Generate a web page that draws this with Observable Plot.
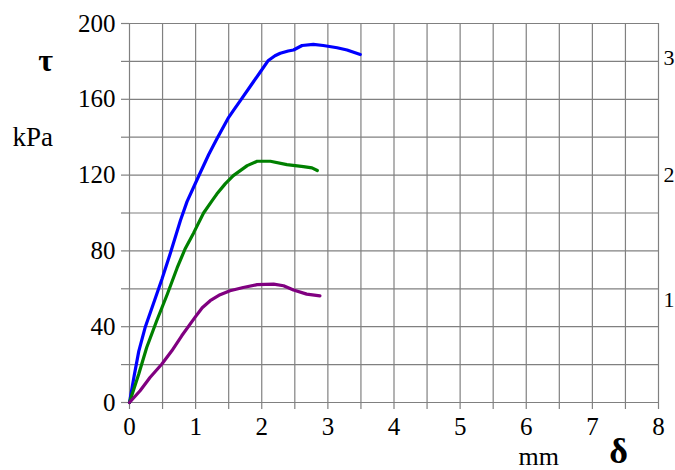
<!DOCTYPE html>
<html>
<head>
<meta charset="utf-8">
<script src="https://cdn.jsdelivr.net/npm/d3@7"></script>
<script src="https://cdn.jsdelivr.net/npm/@observablehq/plot@0.6"></script>
<style>
  html, body { margin: 0; padding: 0; background: #fff; overflow: hidden; }
  #chart svg, #chart svg text { font-family: "Liberation Serif", "Times New Roman", serif !important; }
</style>
</head>
<body>
<div id="chart"></div>
<script>
// Curve 3 (blue)
const blueX = [0, 0.07, 0.14, 0.24, 0.36, 0.49, 0.62, 0.77, 0.87, 1.04, 1.2, 1.32, 1.5, 1.57, 1.7, 1.83, 1.97, 2.1, 2.2, 2.28, 2.4, 2.48, 2.61, 2.78, 2.93, 3.14, 3.29, 3.49];
const blueY = [0, 14, 27, 40, 52, 65, 79, 96, 106, 119, 131, 139, 150.5, 154, 160.5, 167, 174, 180.5, 183, 184.3, 185.5, 186, 188.4, 189, 188.4, 187.2, 186, 183.6];
// Curve 2 (green)
const greenX = [0, 0.14, 0.26, 0.41, 0.57, 0.72, 0.84, 0.97, 1.12, 1.25, 1.32, 1.45, 1.57, 1.78, 1.93, 2.13, 2.38, 2.63, 2.76, 2.84];
const greenY = [0, 15, 29, 43, 57, 71, 81, 89.5, 100, 106.5, 110, 115.5, 119.7, 125, 127.3, 127.3, 125.5, 124.5, 123.8, 122.4];
// Curve 1 (purple)
const purpleX = [0, 0.16, 0.31, 0.49, 0.64, 0.79, 0.99, 1.1, 1.22, 1.37, 1.52, 1.72, 1.93, 2.18, 2.33, 2.48, 2.68, 2.88];
const purpleY = [0, 6.2, 13.2, 20.3, 27.3, 35.2, 44.9, 50, 53.7, 56.9, 59, 60.7, 62.2, 62.5, 61.6, 59.4, 57.2, 56.3];

const curveNames = ["3", "2", "1"];
const curveColors = ["#0000ff", "#008000", "#800080"];
const curveLabelY = [182, 120, 54];

const xTickLabels = [0, 1, 2, 3, 4, 5, 6, 7, 8];
const xGridTicks = d3.range(0, 8.001, 0.5);
const yTickLabels = [0, 40, 80, 120, 160, 200];
const yGridTicks = d3.range(0, 200.001, 20);

const series = [
  {name: "3", xs: blueX, ys: blueY},
  {name: "2", xs: greenX, ys: greenY},
  {name: "1", xs: purpleX, ys: purpleY}
];
const rows = series.flatMap(s => s.xs.map((x, i) => ({curve: s.name, x, y: s.ys[i]})));
const curveLabels = curveNames.map((c, i) => ({curve: c, y: curveLabelY[i]}));

const font = "Liberation Serif";
const gridColor = "#808080";

const chart = Plot.plot({
  width: 675,
  height: 470,
  marginLeft: 129,
  marginRight: 17,
  marginTop: 23,
  marginBottom: 68,
  style: "font-family: 'Liberation Serif', serif; font-size: 25px; color: #000; background: #fff; overflow: visible;",
  x: {domain: [0, 8]},
  y: {domain: [0, 200]},
  color: {domain: curveNames, range: curveColors},
  marks: [
    Plot.gridX(xGridTicks, {stroke: gridColor, strokeOpacity: 1, strokeWidth: 1.2}),
    Plot.gridY(yGridTicks, {stroke: gridColor, strokeOpacity: 1, strokeWidth: 1.2}),
    Plot.axisX(xGridTicks, {tickSize: 7, tickFormat: () => "", stroke: gridColor, strokeWidth: 1.2, label: null}),
    Plot.axisX(xTickLabels, {tickSize: 0, tickPadding: 15, fontSize: 25, fontFamily: font, fill: "#000", label: null, tickFormat: d => String(d)}),
    Plot.axisY(yGridTicks, {tickSize: 8, tickFormat: () => "", stroke: gridColor, strokeWidth: 1.2, label: null}),
    Plot.axisY(yTickLabels, {tickSize: 0, tickPadding: 14, fontSize: 25, fontFamily: font, fill: "#000", label: null, tickFormat: d => String(d)}),
    Plot.line(rows, {x: "x", y: "y", z: "curve", stroke: "curve", strokeWidth: 3.2, curve: "linear", strokeLinejoin: "round", strokeLinecap: "round"}),
    Plot.text(curveLabels, {x: () => 8, y: "y", text: "curve", dx: 5, textAnchor: "start", fontSize: 22, fontFamily: font, fill: "#000", clip: false}),
    Plot.text(["τ"], {frameAnchor: "top-left", dx: -84, dy: 47, textAnchor: "middle", lineAnchor: "bottom", fontSize: 32, fontWeight: "bold", fontFamily: font, fill: "#000"}),
    Plot.text(["kPa"], {frameAnchor: "top-left", dx: -117, dy: 122, textAnchor: "start", lineAnchor: "bottom", fontSize: 27, fontFamily: font, fill: "#000"}),
    Plot.text(["mm"], {frameAnchor: "bottom-right", dx: -140, dy: 62, textAnchor: "start", lineAnchor: "bottom", fontSize: 26, fontFamily: font, fill: "#000"}),
    Plot.text(["δ"], {frameAnchor: "bottom-right", dx: -40, dy: 60, textAnchor: "middle", lineAnchor: "bottom", fontSize: 36, fontWeight: "bold", fontFamily: font, fill: "#000"})
  ]
});
document.getElementById("chart").appendChild(chart);
</script>
</body>
</html>
